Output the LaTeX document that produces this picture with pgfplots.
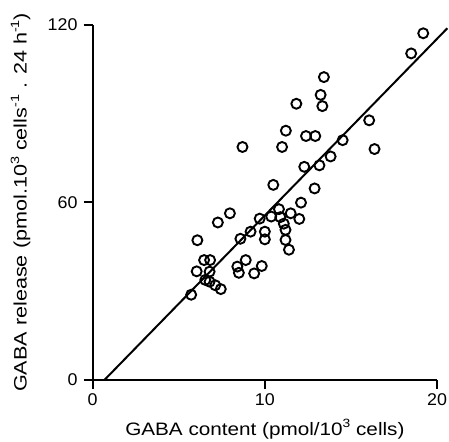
\documentclass[border=0pt]{standalone}
\usepackage{fontspec}
\setmainfont[FakeStretch=1.15]{Liberation Sans}
\newfontfamily\tickfont[FakeStretch=1.05]{Liberation Sans}
\newfontfamily\ylabfont[FakeStretch=1.2]{Liberation Sans}
\newcommand\supr[1]{\raisebox{0.42em}{\fontsize{12}{14}\selectfont #1}}
\usepackage{pgfplots}
\pgfplotsset{compat=1.18}

% GABA content vs GABA release, one point per culture
\pgfplotstableread{
x y
19.2 117.1
18.5 110.3
13.43 102.3
13.24 96.3
13.34 92.5
11.83 93.3
16.06 87.7
11.22 84.2
12.39 82.4
12.93 82.4
14.52 81.0
8.70 78.7
11.00 78.7
16.37 78.0
13.82 75.5
12.29 72.0
13.17 72.5
10.49 65.9
12.89 64.7
12.10 59.9
7.97 56.3
10.82 57.7
11.50 56.3
7.27 53.2
9.70 54.5
10.37 55.2
10.90 55.0
12.00 54.4
11.10 52.8
9.17 50.1
10.00 50.1
11.20 50.7
8.58 47.7
10.00 47.5
11.20 47.3
6.08 47.2
11.40 44.0
6.47 40.5
6.82 40.5
8.89 40.5
6.04 36.7
6.79 36.6
8.40 38.3
8.49 36.2
9.38 36.0
9.82 38.5
6.54 33.8
6.79 33.2
7.12 32.0
7.44 30.7
5.72 28.8
}\gabadata

\begin{document}
\fontsize{17}{20}\selectfont
\begin{tikzpicture}
\begin{axis}[
    width=344.3pt,
    height=355.3pt,
    scale only axis,
    xmin=0, xmax=20,
    ymin=0, ymax=120,
    axis lines=left,
    axis line style={-, line width=2pt},
    xtick={0,10,20},
    ytick={0,60,120},
    tick align=outside,
    major tick length=9pt,
    tick style={line width=2pt, black},
    /pgf/number format/assume math mode=true,
    every tick label/.append style={font=\tickfont\fontsize{17}{20}\selectfont},
    xticklabel style={font=\tickfont\fontsize{17}{20}\selectfont, anchor=base, inner sep=0pt, yshift=-16pt},
    yticklabel style={font=\tickfont\fontsize{17}{20}\selectfont, anchor=east, inner sep=0pt, xshift=-6pt},
    label style={font=\fontsize{18}{21}\selectfont},
    xlabel={GABA content (pmol/10\supr{3} cells)},
    xlabel style={at={(axis description cs:0.5,0)}, anchor=base, yshift=-55pt},
    ylabel={GABA release (pmol.10\supr{3} cells\supr{-1} . 24 h\supr{-1})},
    ylabel style={font=\ylabfont\fontsize{18}{21}\selectfont, at={(axis description cs:-0.1917,0.5)}, anchor=base},
    clip=false
]
    \addplot[only marks, mark=o, mark size=5pt, mark options={line width=1.9pt, black}]
        table[x=x, y=y] {\gabadata};

    \addplot[line width=2pt, black] coordinates {
        (0.68,0)
        (20.6,118.8)
    };
\end{axis}
\pgfresetboundingbox
\path[use as bounding box] (-92.7pt,-61pt) rectangle (356.3pt,380pt);
\end{tikzpicture}
\end{document}
